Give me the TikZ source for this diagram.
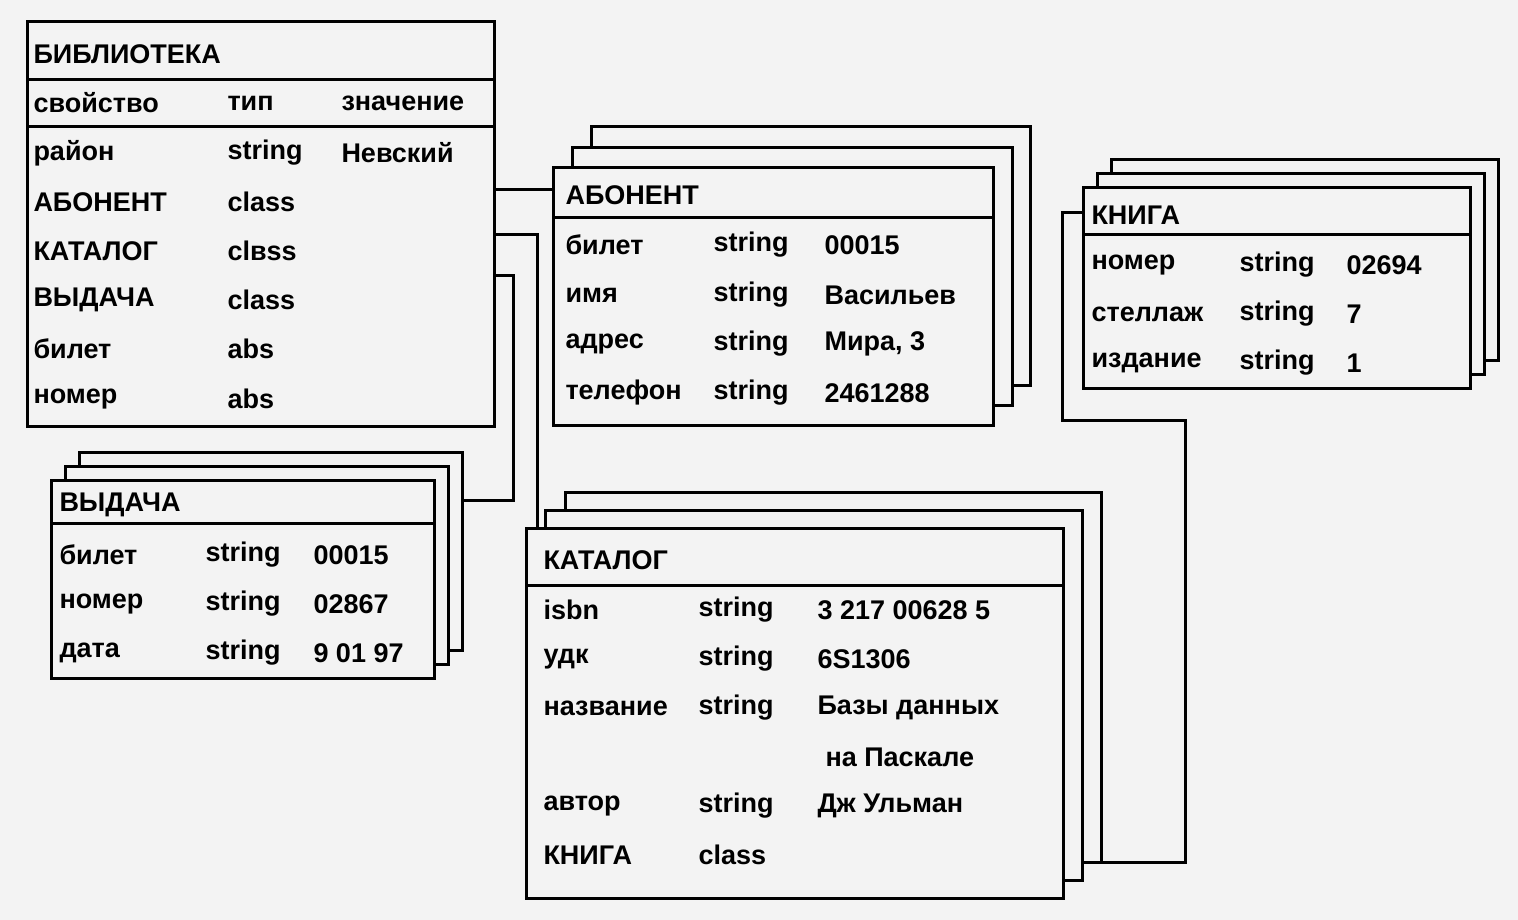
\documentclass[tikz,border=0pt]{standalone}
\usepackage{fontspec}
\setmainfont{Liberation Sans}
\begin{document}
\begin{tikzpicture}[x=1pt,y=-1pt,line width=3pt,
  bx/.style={draw=black,fill=bgc},
  tx/.style={anchor=west,inner sep=0pt,font=\fontsize{27}{30}\selectfont\bfseries},
  conn/.style={draw=black,line width=3pt}]
\definecolor{bgc}{HTML}{F3F3F3}
\fill[bgc] (0,0) rectangle (1518,920);
\useasboundingbox (0,0) rectangle (1518,920);
% БИБЛИОТЕКА
\draw[bx] (27,22) rectangle (494,426);
\draw (27,80) -- (494,80);
\draw (27,127) -- (494,127);
\coordinate (libA) at (494,190);
\coordinate (libK) at (494,235);
\coordinate (libV) at (494,275);
\foreach \y/\a/\b/\c in {103/свойство/тип/значение,153/район/string/Невский,202/АБОНЕНТ/class/,251/КАТАЛОГ/clвss/,300/ВЫДАЧА/class/,349/билет/abs/,399/номер/abs/}{
  \node[tx] at (32,\y) {\a}; \node[tx] at (226,\y) {\b}; \node[tx] at (340,\y) {\c};}
\node[tx] (libt) at (32,54) {БИБЛИОТЕКА};
% АБОНЕНТ
\draw[bx] (591,127) rectangle (1030,385);
\draw[bx] (572,148) rectangle (1012,405);
\draw[bx] (553,168) rectangle (993,425);
\draw (553,218) -- (993,218);
\coordinate (abL) at (553,190);
\node[tx] at (564,195) {АБОНЕНТ};
\foreach \y/\a/\b/\c in {245/билет/string/00015,295/имя/string/Васильев,344/адрес/string/{Мира, 3},393/телефон/string/2461288}{
  \node[tx] at (564,\y) {\a}; \node[tx] at (712,\y) {\b}; \node[tx] at (823,\y) {\c};}
% КНИГА
\draw[bx] (1111,160) rectangle (1498,360);
\draw[bx] (1097,174) rectangle (1484,374);
\draw[bx] (1083,188) rectangle (1470,388);
\draw (1083,235) -- (1470,235);
\coordinate (knL) at (1083,213);
\node[tx] at (1090,215) {КНИГА};
\foreach \y/\a/\b/\c in {265/номер/string/02694,314/стеллаж/string/7,363/издание/string/1}{
  \node[tx] at (1090,\y) {\a}; \node[tx] at (1238,\y) {\b}; \node[tx] at (1345,\y) {\c};}
% ВЫДАЧА
\draw[bx] (79,452) rectangle (462,650);
\draw[bx] (65,466) rectangle (448,664);
\draw[bx] (51,480) rectangle (434,678);
\draw (51,523) -- (434,523);
\coordinate (vyR) at (462,500);
\node[tx] at (58,505) {ВЫДАЧА};
\foreach \y/\a/\b/\c in {555/билет/string/00015,604/номер/string/02867,653/дата/string/9 01 97}{
  \node[tx] at (58,\y) {\a}; \node[tx] at (204,\y) {\b}; \node[tx] at (312,\y) {\c};}
% КАТАЛОГ
\draw[bx] (565,492) rectangle (1101,862);
\draw[bx] (545,510) rectangle (1082,880);
\draw[bx] (526,528) rectangle (1063,898);
\draw (526,585) -- (1063,585);
\coordinate (kaT) at (537,528);
\coordinate (kaR) at (1101,862);
\node[tx] at (542,560) {КАТАЛОГ};
\foreach \y/\a/\b/\c in {610/isbn/string/3 217 00628 5,659/удк/string/6S1306,708/название/string/Базы данных,806/автор/string/Дж Ульман,855/КНИГА/class/}{
  \node[tx] at (542,\y) {\a}; \node[tx] at (697,\y) {\b}; \node[tx] at (816,\y) {\c};}
\node[tx] at (824,757) {на Паскале};
% connectors
\draw[conn] (libA) -- (abL);
\draw[conn] (libK) -| (kaT);
\draw[conn] (libV) -- (513,275) |- (vyR);
\draw[conn] (knL) -- (1062,213) -- (1062,420) -- (1185,420) |- (kaR);
\end{tikzpicture}
\end{document}
